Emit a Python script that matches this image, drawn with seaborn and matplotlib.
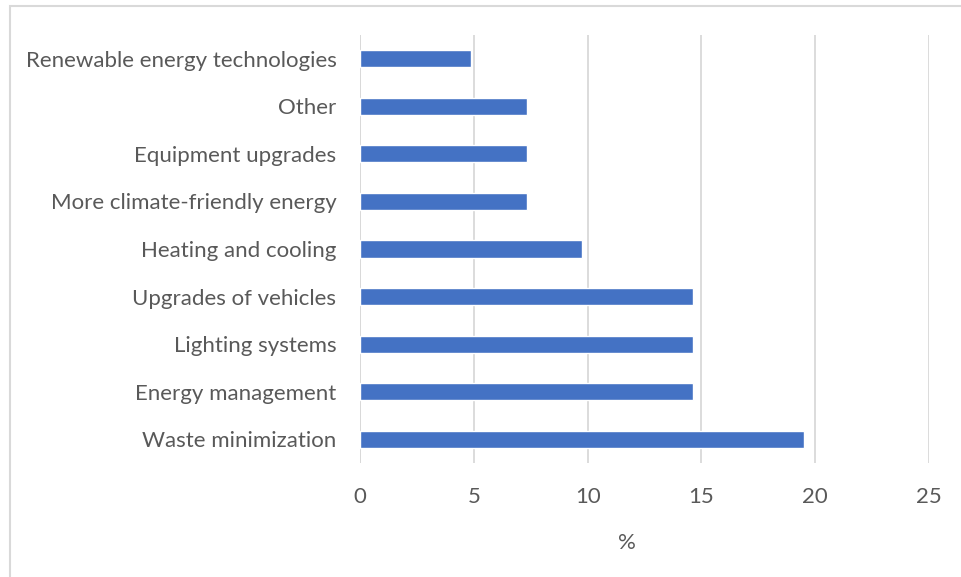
import matplotlib
matplotlib.use("Agg")
import matplotlib.pyplot as plt
import seaborn as sns
import pandas as pd
from matplotlib.patches import Rectangle

categories = [
    "Renewable energy technologies",
    "Other",
    "Equipment upgrades",
    "More climate-friendly energy",
    "Heating and cooling",
    "Upgrades of vehicles",
    "Lighting systems",
    "Energy management",
    "Waste minimization",
]
percent = [4.88, 7.32, 7.32, 7.32, 9.76, 14.63, 14.63, 14.63, 19.51]
x_ticks = [0, 5, 10, 15, 20, 25]

df = pd.DataFrame({"category": categories, "percent": percent})

sns.set_theme(style="white")
plt.rcParams["font.family"] = ["Lato", "DejaVu Sans"]

text_color = "#595959"
grid_color = "#d9d9d9"
bar_color = "#4472C4"
fs = 16

fig = plt.figure(figsize=(9.61, 5.77), dpi=100)
ax = fig.add_axes([360 / 961, 1 - 463 / 577, (929 - 360) / 961, (463 - 35) / 577])

sns.barplot(data=df, x="percent", y="category", orient="h", color=bar_color,
            width=0.36, saturation=1, ax=ax, zorder=3)

ax.set_xlim(0, 25)
ax.set_ylim(len(categories) - 0.5, -0.5)
ax.set_xticks(x_ticks)
ax.set_xticklabels([str(t) for t in x_ticks])
ax.xaxis.grid(True, color=grid_color, linewidth=1.3)
ax.yaxis.grid(False)
for s in ax.spines.values():
    s.set_visible(False)
ax.axvline(0, color=grid_color, linewidth=1.3, zorder=2)

ax.tick_params(axis="x", length=0, pad=17, labelsize=fs, labelcolor=text_color)
ax.tick_params(axis="y", length=0, pad=17, labelsize=fs, labelcolor=text_color)
ax.set_ylabel("")
ax.set_xlabel("%", fontsize=fs, color=text_color)
ax.xaxis.set_label_coords((627 - 360) / (929 - 360), -(543 - 463) / (463 - 35),
                          transform=ax.transAxes)
ax.xaxis.label.set_va("center")

# chart frame
fig.patches.append(Rectangle((10 / 961, -0.01), 1.02, 1 + 0.01 - 6 / 577,
                             transform=fig.transFigure, fill=False,
                             edgecolor="#d9d9d9", linewidth=1.5))

fig.savefig("out.png", dpi=100)
